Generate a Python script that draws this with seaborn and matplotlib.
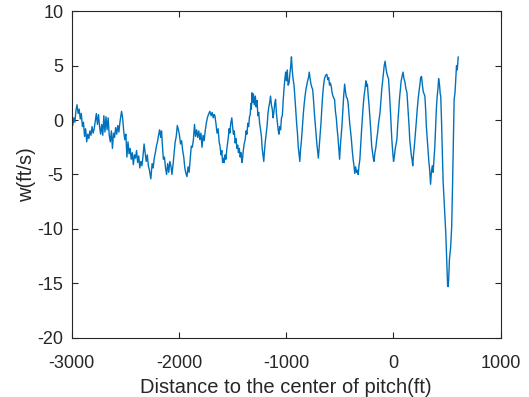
import matplotlib
matplotlib.use("Agg")
import matplotlib.pyplot as plt
import seaborn as sns
import pandas as pd

distance_ft = [
    -3000, -2990, -2980, -2970, -2960, -2950, -2940, -2930, -2920, -2910,
    -2900, -2890, -2880, -2870, -2860, -2850, -2840, -2830, -2820, -2810,
    -2800, -2790, -2780, -2770, -2760, -2750, -2740, -2730, -2720, -2710,
    -2700, -2690, -2680, -2670, -2660, -2650, -2640, -2630, -2620, -2610,
    -2600, -2590, -2580, -2570, -2560, -2550, -2540, -2535, -2525, -2515,
    -2505, -2495, -2485, -2475, -2465, -2455, -2445, -2435, -2425, -2415,
    -2405, -2395, -2385, -2375, -2365, -2355, -2345, -2335, -2325, -2315,
    -2305, -2295, -2285, -2275, -2262, -2250, -2240, -2230, -2220, -2210,
    -2200, -2190, -2180, -2170, -2162, -2155, -2145, -2135, -2125, -2115,
    -2105, -2095, -2085, -2075, -2065, -2055, -2045, -2035, -2025, -2015,
    -2005, -1995, -1985, -1975, -1965, -1955, -1945, -1935, -1925, -1915,
    -1905, -1895, -1885, -1875, -1865, -1855, -1845, -1835, -1825, -1815,
    -1805, -1795, -1785, -1775, -1765, -1755, -1745, -1735, -1725, -1712,
    -1700, -1690, -1680, -1672, -1665, -1655, -1645, -1635, -1625, -1617,
    -1608, -1600, -1593, -1586, -1578, -1570, -1562, -1555, -1547, -1540,
    -1532, -1525, -1517, -1507, -1500, -1492, -1484, -1476, -1468, -1460,
    -1452, -1445, -1437, -1429, -1421, -1413, -1407, -1400, -1392, -1382,
    -1374, -1366, -1358, -1350, -1342, -1335, -1330, -1325, -1319, -1313,
    -1306, -1298, -1288, -1280, -1272, -1264, -1256, -1248, -1240, -1231,
    -1224, -1216, -1209, -1203, -1195, -1186, -1178, -1170, -1162, -1154,
    -1146, -1138, -1130, -1122, -1115, -1107, -1099, -1091, -1083, -1075,
    -1068, -1060, -1052, -1044, -1036, -1028, -1020, -1012, -1005, -998,
    -990, -982, -973, -965, -958, -951, -944, -936, -926, -918,
    -910, -902, -895, -888, -880, -873, -866, -858, -848, -840,
    -832, -824, -816, -808, -800, -792, -785, -777, -769, -761,
    -753, -745, -737, -729, -722, -714, -707, -700, -692, -684,
    -675, -667, -659, -651, -643, -632, -621, -612, -604, -596,
    -588, -580, -572, -564, -556, -549, -541, -533, -525, -518,
    -510, -502, -495, -487, -480, -472, -464, -455, -447, -439,
    -431, -423, -415, -407, -400, -392, -384, -376, -368, -361,
    -353, -345, -337, -329, -321, -313, -305, -297, -290, -282,
    -274, -266, -257, -250, -243, -235, -227, -219, -211, -203,
    -195, -188, -181, -173, -165, -156, -148, -140, -132, -125,
    -117, -109, -101, -93, -86, -78, -70, -62, -54, -46,
    -38, -30, -22, -15, -7, 1, 9, 17, 25, 32,
    40, 48, 56, 64, 72, 80, 89, 98, 107, 116,
    126, 133, 140, 146, 152, 159, 166, 173, 180, 187,
    194, 205, 213, 221, 230, 238, 246, 254, 262, 270,
    278, 286, 293, 300, 307, 315, 322, 330, 338, 346,
    354, 362, 370, 378, 386, 393, 400, 408, 416, 421,
    430, 436, 441, 448, 455, 463, 475, 488, 500, 505,
    510, 515, 522, 533, 543, 552, 566, 574, 588, 595,
    604,
]

w_fts = [
    0.1, -0.5, 0.2, -0.2, 0.9, 1.4, 0.6, 1.0, 0.1, 0.6,
    -0.6, -0.2, -1.5, -0.8, -2.0, -1.3, -1.7, -1.0, -1.4, -0.6,
    -1.2, -0.8, -0.1, 0.6, -0.4, 0.5, -0.6, -1.3, -0.4, -1.4,
    0.4, -1.1, 0.3, -0.9, 0.2, -1.4, -2.0, -1.0, -2.6, -1.2,
    -1.6, -0.7, -1.3, -0.5, -1.1, -0.2, 0.5, 0.8, 0.2, -1.0,
    -1.8, -1.3, -3.4, -2.0, -3.1, -2.6, -3.6, -3.0, -4.1, -3.2,
    -3.5, -2.8, -3.9, -3.3, -4.4, -3.8, -4.2, -3.3, -2.2, -3.0,
    -3.8, -3.2, -4.2, -4.6, -5.4, -4.0, -4.4, -3.5, -3.0, -2.4,
    -2.0, -1.4, -0.9, -1.6, -1.0, -2.2, -3.6, -3.4, -4.4, -5.0,
    -4.0, -4.8, -3.8, -4.2, -5.0, -4.1, -3.0, -2.0, -1.5, -0.5,
    -0.9, -1.4, -2.2, -1.9, -2.8, -3.4, -4.4, -4.9, -5.2, -4.3,
    -4.8, -3.6, -2.4, -2.5, -1.8, -0.4, -1.5, -0.9, -1.6, -1.0,
    -1.8, -1.2, -2.5, -1.4, -1.9, -1.0, -0.3, 0.2, 0.5, 0.8,
    0.4, 0.7, 0.2, 0.5, 0.4, -0.3, -1.2, -0.8, -2.0, -2.4,
    -3.2, -2.8, -3.9, -3.5, -3.9, -3.2, -3.6, -2.8, -2.2, -1.6,
    -0.8, -1.2, -0.3, 0.2, -0.6, -1.3, -1.0, -2.1, -1.7, -2.6,
    -2.3, -3.0, -2.6, -3.4, -3.0, -3.9, -3.6, -2.8, -2.2, -1.8,
    -1.0, -1.3, -0.3, -0.6, 0.3, 0.5, 1.5, 1.0, 2.5, 1.6,
    2.4, 1.4, 2.2, 1.2, 1.8, 0.4, 0.7, -0.3, -0.8, -1.5,
    -2.6, -3.2, -3.8, -2.9, -2.0, -1.2, -0.5, 0.6, 1.2, 1.6,
    2.2, 1.4, 1.0, 0.2, 0.7, 1.5, 1.9, 0.6, -0.2, -0.9,
    -1.3, -0.6, -0.9, 0.2, 0.4, 1.8, 2.9, 3.8, 4.4, 3.6,
    4.6, 3.2, 3.4, 4.3, 4.9, 5.8, 4.6, 3.8, 3.1, 2.0,
    0.8, -0.4, -1.2, -2.4, -3.2, -3.8, -2.7, -1.9, -0.5, 0.6,
    1.5, 2.2, 2.8, 3.2, 3.6, 3.9, 4.4, 3.8, 3.3, 3.0,
    2.8, 1.8, 0.6, -0.4, -1.2, -2.2, -2.9, -3.5, -2.4, -1.2,
    -0.2, 1.2, 2.4, 3.2, 3.8, 4.1, 4.2, 3.7, 3.9, 3.2,
    3.4, 3.1, 2.5, 2.2, 2.0, 1.9, 0.8, 0.2, -0.8, -1.5,
    -2.6, -3.6, -2.4, -1.4, -0.5, 0.8, 2.2, 3.3, 2.6, 2.1,
    2.0, 1.6, 0.6, -0.4, -1.0, -1.8, -2.8, -3.6, -4.2, -4.9,
    -4.3, -4.8, -4.6, -5.0, -4.2, -3.6, -2.2, -0.9, 0.2, 1.3,
    2.2, 2.8, 3.6, 3.1, 3.3, 2.2, 1.3, 0.2, -1.0, -2.4,
    -3.0, -3.5, -3.8, -3.0, -2.6, -1.8, -1.2, -0.4, 0.2, 0.7,
    1.8, 2.8, 3.6, 4.4, 5.0, 5.4, 4.8, 4.3, 4.0, 3.8,
    2.6, 1.2, -0.4, -1.8, -2.9, -3.8, -3.3, -2.6, -2.2, -1.8,
    -0.4, 0.8, 1.9, 2.8, 3.6, 4.0, 4.4, 3.8, 3.5, 2.9,
    2.5, 1.4, 0.3, -0.6, -1.8, -2.5, -3.2, -3.6, -4.2, -3.2,
    -2.5, -1.2, -0.2, 0.9, 1.9, 2.6, 3.2, 3.9, 4.0, 3.2,
    2.6, 2.4, 2.2, 1.0, -0.6, -1.8, -2.7, -3.8, -4.6, -5.9,
    -4.8, -4.2, -4.8, -3.6, -2.4, -0.8, 1.0, 2.2, 3.0, 3.8,
    3.2, 2.4, 2.2, 0.0, -2.7, -5.6, -8.0, -10.4, -13.6, -15.2,
    -15.3, -14.6, -12.8, -11.7, -9.8, -5.5, 1.9, 2.5, 5.0, 4.6,
    5.8,
]

x_ticks = [-3000, -2000, -1000, 0, 1000]
y_ticks = [-20, -15, -10, -5, 0, 5, 10]

df = pd.DataFrame({"x": distance_ft, "w": w_fts})

sns.set_theme(style="white")
plt.rcParams["font.family"] = ["Liberation Sans", "DejaVu Sans"]

fig = plt.figure(figsize=(5.29, 3.97), dpi=100)
ax = fig.add_axes([0.1355, 0.149, 0.811, 0.823])

sns.lineplot(data=df, x="x", y="w", ax=ax, color="#0072BD", linewidth=1.0,
             sort=False, estimator=None)

ax.set_xlim(-3000, 1000)
ax.set_ylim(-20, 10)
ax.set_xticks(x_ticks)
ax.set_yticks(y_ticks)
ax.set_xticklabels([str(t) for t in x_ticks])
ax.set_yticklabels([str(t) for t in y_ticks])
ax.set_xlabel("Distance to the center of pitch(ft)", fontsize=14.5, color="#262626", labelpad=5)
ax.set_ylabel("w(ft/s)", fontsize=14.5, color="#262626", labelpad=1)

for s in ax.spines.values():
    s.set_visible(True)
    s.set_color("#262626")
    s.set_linewidth(0.8)
ax.tick_params(direction="in", length=4, width=0.8, colors="#262626",
               labelsize=13, top=True, right=True, bottom=True, left=True,
               labelcolor="#262626")
ax.tick_params(axis="x", pad=12)
ax.tick_params(axis="y", pad=6)
ax.grid(False)

fig.savefig("out.png", dpi=100)
